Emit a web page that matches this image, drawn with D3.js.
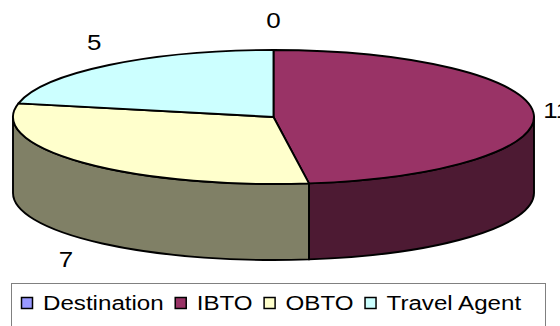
<!DOCTYPE html>
<html>
<head>
<meta charset="utf-8">
<script src="https://cdn.jsdelivr.net/npm/d3@7"></script>
<style>
  html, body { margin: 0; padding: 0; background: #fff; overflow: hidden; }
  svg { display: block; }
</style>
</head>
<body>
<svg id="chart" width="560" height="326"></svg>
<script>
// Series
const categories = ["Destination", "IBTO", "OBTO", "Travel Agent"];
const values = [0, 11, 7, 5];
const topColors = ["#9999FF", "#993366", "#FFFFCC", "#CCFFFF"];
const sideColors = ["#4D4D80", "#4D1A33", "#808066", "#668080"];

// Layout of the tilted pie
const cx = 273.5, cy = 117, rx = 260.5, ry = 67, depth = 76;
const textStretch = 1.18;
const font = "'Liberation Sans', Arial, Helvetica, sans-serif";

const svg = d3.select("#chart");

const pie = d3.pie().sort(null).value(d => d.value).startAngle(0).endAngle(2 * Math.PI);
const slices = pie(categories.map((name, i) => ({ name, value: values[i], i })));

// point on the top ellipse for a pie angle (0 = 12 o'clock, clockwise)
function pt(a, dy = 0) {
  return [cx + rx * Math.sin(a), cy - ry * Math.cos(a) + dy];
}

function topPath(a0, a1) {
  const p0 = pt(a0), p1 = pt(a1);
  const large = (a1 - a0) > Math.PI ? 1 : 0;
  return `M${cx},${cy}L${p0}A${rx},${ry} 0 ${large} 1 ${p1}Z`;
}

// outer rim, only the part facing the viewer (lower half of the ellipse)
function wallPath(a0, a1) {
  const b0 = Math.max(a0, Math.PI / 2), b1 = Math.min(a1, 3 * Math.PI / 2);
  if (b1 <= b0) return null;
  const p0 = pt(b0), p1 = pt(b1), q0 = pt(b0, depth), q1 = pt(b1, depth);
  return `M${p0}A${rx},${ry} 0 0 1 ${p1}L${q1}A${rx},${ry} 0 0 0 ${q0}Z`;
}

const visible = slices.filter(d => d.value > 0);

svg.append("g").attr("class", "walls")
  .selectAll("path")
  .data(visible.filter(d => wallPath(d.startAngle, d.endAngle)))
  .join("path")
  .attr("d", d => wallPath(d.startAngle, d.endAngle))
  .attr("fill", d => sideColors[d.data.i])
  .attr("stroke", "#000")
  .attr("stroke-width", 1.9)
  .attr("stroke-linejoin", "round");

svg.append("g").attr("class", "tops")
  .selectAll("path")
  .data(visible)
  .join("path")
  .attr("d", d => topPath(d.startAngle, d.endAngle))
  .attr("fill", d => topColors[d.data.i])
  .attr("stroke", "#000")
  .attr("stroke-width", 1.9)
  .attr("stroke-linejoin", "round");

// value labels outside the rim
const labelFont = 22, padX = 23.5, padY = 30;
svg.append("g").attr("class", "labels")
  .selectAll("g")
  .data(slices)
  .join("g")
  .attr("transform", d => {
    const m = (d.startAngle + d.endAngle) / 2;
    const x = cx + (rx + padX) * Math.sin(m);
    let y = cy - (ry + padY) * Math.cos(m);
    if (Math.cos(m) < 0) y += depth;
    return `translate(${x},${y + labelFont * 0.358}) scale(${textStretch},1)`;
  })
  .append("text")
  .attr("text-anchor", "middle")
  .attr("font-family", font)
  .attr("font-size", labelFont)
  .attr("fill", "#000")
  .text(d => d.data.value);

// legend
const legend = svg.append("g").attr("class", "legend");
legend.append("rect")
  .attr("x", 11.5).attr("y", 283.5)
  .attr("width", 534).attr("height", 60)
  .attr("fill", "#fff")
  .attr("stroke", "#808080")
  .attr("stroke-width", 1);

const legendFont = 21, legendStretch = 1.15, markerSize = 11, markerGap = 10, itemGap = 11;
let lx = 21;
categories.forEach((name, i) => {
  legend.append("rect")
    .attr("x", lx + 0.5).attr("y", 297.5)
    .attr("width", markerSize).attr("height", markerSize)
    .attr("fill", topColors[i])
    .attr("stroke", "#000")
    .attr("stroke-width", 1.5);
  lx += markerSize + 1 + markerGap;
  const g = legend.append("g")
    .attr("transform", `translate(${lx},309.5) scale(${legendStretch},1)`);
  const t = g.append("text")
    .attr("font-family", font)
    .attr("font-size", legendFont)
    .attr("fill", "#000")
    .text(name);
  lx += t.node().getComputedTextLength() * legendStretch + itemGap;
});
</script>
</body>
</html>
